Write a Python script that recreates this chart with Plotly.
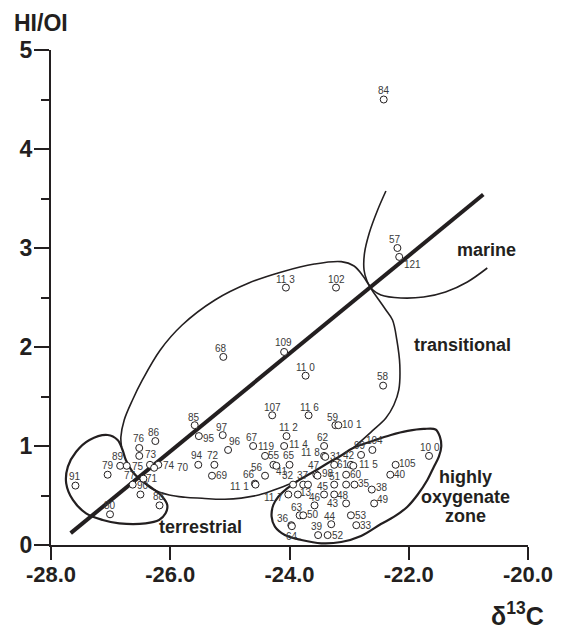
import plotly.graph_objects as go

# ---------------- data ----------------
sample_ids = ["84", "57", "121", "11 3", "102", "68", "109", "11 0", "58", "107",
              "11 6", "59", "10 1", "85", "95", "97", "86", "76", "", "73",
              "89", "75", "79", "91", "74", "70", "77", "71", "90", "88",
              "80", "94", "72", "69", "96", "67", "119", "11 2", "11 4", "62",
              "11 8", "31", "55", "41", "65", "56", "66", "11 1", "11 7", "32",
              "37", "", "13", "47", "98", "61", "42", "11 5", "99", "104",
              "60", "51", "", "35", "38", "45", "46", "48", "43", "49",
              "63", "50", "44", "53", "36", "64", "39", "52", "33", "10 0",
              "105", "40"]
delta13c = [-22.42, -22.19, -22.16, -24.06, -23.22, -25.11, -24.09, -23.73, -22.43, -24.29,
            -23.68, -23.23, -23.18, -25.59, -25.52, -25.12, -26.25, -26.52, -26.52, -26.34,
            -26.84, -26.73, -27.05, -27.59, -26.20, -26.27, -26.63, -26.45, -26.50, -26.18,
            -27.01, -25.53, -25.26, -25.30, -25.03, -24.61, -24.41, -24.05, -24.09, -23.42,
            -23.42, -23.40, -24.27, -24.22, -24.00, -24.41, -24.58, -24.57, -24.02, -23.94,
            -23.77, -23.69, -23.86, -23.55, -23.53, -23.25, -22.97, -22.93, -22.80, -22.61,
            -23.05, -23.25, -23.05, -22.91, -22.62, -23.42, -23.58, -23.25, -23.05, -22.58,
            -23.83, -23.77, -23.30, -22.97, -23.97, -23.96, -23.52, -23.36, -22.88, -21.66,
            -22.22, -22.31]
hi_oi = [4.50, 3.00, 2.91, 2.60, 2.60, 1.90, 1.95, 1.71, 1.61, 1.31,
         1.31, 1.21, 1.21, 1.21, 1.10, 1.11, 1.05, 0.98, 0.90, 0.81,
         0.80, 0.80, 0.71, 0.60, 0.81, 0.78, 0.61, 0.67, 0.51, 0.40,
         0.31, 0.81, 0.81, 0.70, 0.96, 1.00, 0.90, 1.10, 1.00, 1.00,
         0.90, 0.89, 0.81, 0.80, 0.81, 0.70, 0.62, 0.61, 0.51, 0.61,
         0.61, 0.61, 0.51, 0.71, 0.70, 0.81, 0.81, 0.80, 0.91, 0.96,
         0.71, 0.61, 0.61, 0.61, 0.56, 0.51, 0.40, 0.51, 0.42, 0.42,
         0.30, 0.30, 0.21, 0.30, 0.20, 0.19, 0.10, 0.10, 0.20, 0.90,
         0.81, 0.71]

# trend line and field boundaries (data coordinates)
trend_x = [-27.67, -20.75]
trend_y = [0.12, 3.54]

terr_x = [-27.05, -26.883, -26.80, -26.745, -26.633, -26.495, -26.30, -26.133, -26.05, -26.078,
          -26.188, -26.412, -26.855, -27.133, -27.412, -27.633, -27.745, -27.717, -27.578, -27.355, -27.05]
terr_y = [1.111, 1.061, 0.960, 0.859, 0.740, 0.657, 0.573, 0.488, 0.404, 0.320,
          0.253, 0.219, 0.219, 0.253, 0.320, 0.455, 0.623, 0.791, 0.942, 1.061, 1.111]

# marine upper branch -> transitional right side
edgeA_x = [-22.383, -22.522, -22.662, -22.742, -22.75, -22.70, -22.617, -22.50, -22.383, -22.272,
           -22.20, -22.15, -22.167, -22.25, -22.383, -22.633, -22.933]
edgeA_y = [3.576, 3.384, 3.152, 2.949, 2.778, 2.667, 2.576, 2.475, 2.374, 2.273,
           2.071, 1.818, 1.566, 1.414, 1.283, 1.141, 0.980]

# transitional left/top -> marine lower branch
edgeB_x = [-26.817, -26.828, -26.772, -26.633, -26.467, -26.167, -25.80, -25.25, -24.683, -24.133,
           -23.583, -23.133, -22.917, -22.767, -22.667, -22.60, -22.467, -22.133, -21.75, -21.383,
           -21.017, -20.683]
edgeB_y = [0.990, 1.091, 1.263, 1.465, 1.667, 1.970, 2.222, 2.475, 2.646, 2.758,
           2.838, 2.862, 2.818, 2.717, 2.626, 2.576, 2.525, 2.495, 2.505, 2.556,
           2.657, 2.798]

# transitional lower edge
edgeC_x = [-26.467, -26.30, -26.017, -25.75, -25.467, -25.083, -24.517, -24.167, -23.867]
edgeC_y = [0.646, 0.566, 0.505, 0.482, 0.472, 0.462, 0.505, 0.576, 0.646]

# highly oxygenate zone
oxy_x = [-22.933, -22.583, -22.30, -22.017, -21.75, -21.55, -21.478, -21.455, -21.495, -21.578,
         -21.688, -21.855, -22.022, -22.245, -22.467, -22.80, -23.133, -23.467, -23.80, -24.078,
         -24.245, -24.30, -24.272, -24.188, -24.05, -23.867, -23.633, -23.383, -23.133, -22.933]
oxy_y = [0.980, 1.056, 1.111, 1.152, 1.172, 1.167, 1.094, 0.993, 0.892, 0.791,
         0.657, 0.505, 0.387, 0.286, 0.212, 0.091, 0.030, 0.017, 0.051, 0.101,
         0.185, 0.286, 0.404, 0.488, 0.566, 0.646, 0.727, 0.818, 0.904, 0.980]

x_ticks = [-28, -26, -24, -22, -20]
x_tick_text = ["-28.0", "-26.0", "-24.0", "-22.0", "-20.0"]
y_ticks = [0, 1, 2, 3, 4, 5]
y_minor = [0.5, 1.5, 2.5, 3.5, 4.5]

# ---------------- styling ----------------
# pixel offsets of each sample label from its circle (dx right, dy down)
label_dx = [0, -2, 13, 0, 0, -2, -1, 0, 0, 0,
            1, -2, 14, -1, 10, -1, -1, 0, 0, 1,
            -2, 11, 0, 0, 11, 29, -3, 9, 3, -1,
            0, -1, -1, 10, 7, -1, 1, 2, 14, -1,
            -14, 11, 1, 6, -1, -8, -6, -16, -15, -5,
            0, 0, 8, -2, 10, 9, -2, 15, -1, 2,
            10, 1, 0, 10, 10, -1, 0, 9, -13, 9,
            -3, 10, -1, 10, -8, 0, -1, 10, 10, 1,
            12, 10]
label_dy = [-9, -9, 8, -8, -8, -8, -9, -8, -9, -8,
            -8, -8, -1, -8, 2, -8, -9, -9, 0, -10,
            -9, 1, -9, -9, 1, 0, -9, 0, -9, -9,
            -9, -9, -9, 0, -8, -9, -9, -9, -2, -9,
            -3, 0, -9, 6, -9, -8, -9, 2, 3, -9,
            -9, 0, -2, -9, -2, 0, -9, -1, -9, -9,
            0, -8, 0, -1, -2, -8, -8, 1, 0, -4,
            -8, -1, -8, 0, -7, 10, -9, 0, 0, -8,
            -1, 0]

FONT = "Liberation Sans, Arial, Helvetica, sans-serif"
INK = "#231f20"

fig = go.Figure()

for bx, by, w in [(terr_x, terr_y, 2.2), (edgeA_x, edgeA_y, 1.6), (edgeB_x, edgeB_y, 1.6),
                  (edgeC_x, edgeC_y, 1.6), (oxy_x, oxy_y, 2.2)]:
    fig.add_trace(go.Scatter(x=bx, y=by, mode="lines",
                             line=dict(color=INK, width=w, shape="spline", smoothing=1.0),
                             hoverinfo="skip", showlegend=False))

fig.add_trace(go.Scatter(x=trend_x, y=trend_y, mode="lines",
                         line=dict(color=INK, width=4), hoverinfo="skip", showlegend=False))

fig.add_trace(go.Scatter(x=delta13c, y=hi_oi, mode="markers", text=sample_ids,
                         marker=dict(symbol="circle", size=7, color="white",
                                     line=dict(color=INK, width=1)),
                         showlegend=False))

annotations = []
for lab, xv, yv, dx, dy in zip(sample_ids, delta13c, hi_oi, label_dx, label_dy):
    if not lab:
        continue
    annotations.append(dict(x=xv, y=yv, xref="x", yref="y", text=lab, showarrow=False,
                            xshift=dx, yshift=-dy,
                            font=dict(family=FONT, size=10, color="#3a3a3a")))

region_font = dict(family=FONT, size=18, color=INK)
for txt, xv, yv in [("marine", -20.69, 2.98), ("transitional", -21.10, 2.02),
                    ("terrestrial", -25.50, 0.18), ("highly", -21.05, 0.69),
                    ("oxygenate", -21.05, 0.485), ("zone", -21.05, 0.29)]:
    annotations.append(dict(x=xv, y=yv, xref="x", yref="y", text="<b>%s</b>" % txt,
                            showarrow=False, font=region_font))

annotations.append(dict(x=-0.021, y=1.054, xref="paper", yref="paper", text="<b>HI/OI</b>",
                        xanchor="center", yanchor="middle", borderpad=0,
                        showarrow=False, font=dict(family=FONT, size=23, color=INK)))
annotations.append(dict(x=0.977, y=-0.14, xref="paper", yref="paper",
                        text="<b>δ<sup>13</sup>C</b>", xanchor="center", yanchor="middle",
                        showarrow=False, font=dict(family=FONT, size=25, color=INK)))

# the page body adds an 8px margin, so the figure is 8px smaller and offset
fig.update_layout(
    width=563, height=625,
    margin=dict(l=40, r=43, t=42, b=88),
    plot_bgcolor="white", paper_bgcolor="white",
    showlegend=False,
    font=dict(family=FONT, color=INK),
    annotations=annotations,
)
fig.update_xaxes(range=[-28, -20], tickvals=x_ticks, ticktext=x_tick_text,
                 ticks="outside", ticklen=13, tickwidth=2, tickcolor=INK,
                 showline=True, linewidth=2, linecolor=INK,
                 showgrid=False, zeroline=False, ticklabelstandoff=-4,
                 tickfont=dict(family=FONT, size=22, color=INK, weight="bold"))
fig.update_yaxes(range=[0, 5], tickvals=y_ticks,
                 ticks="outside", ticklen=15, tickwidth=2, tickcolor=INK,
                 minor=dict(tickvals=y_minor, ticks="outside", ticklen=8, tickwidth=2,
                            tickcolor=INK, showgrid=False),
                 showline=True, linewidth=2, linecolor=INK,
                 showgrid=False, zeroline=False, ticklabelstandoff=-3,
                 tickfont=dict(family=FONT, size=23, color=INK, weight="bold"))

fig.write_html("out.html")
